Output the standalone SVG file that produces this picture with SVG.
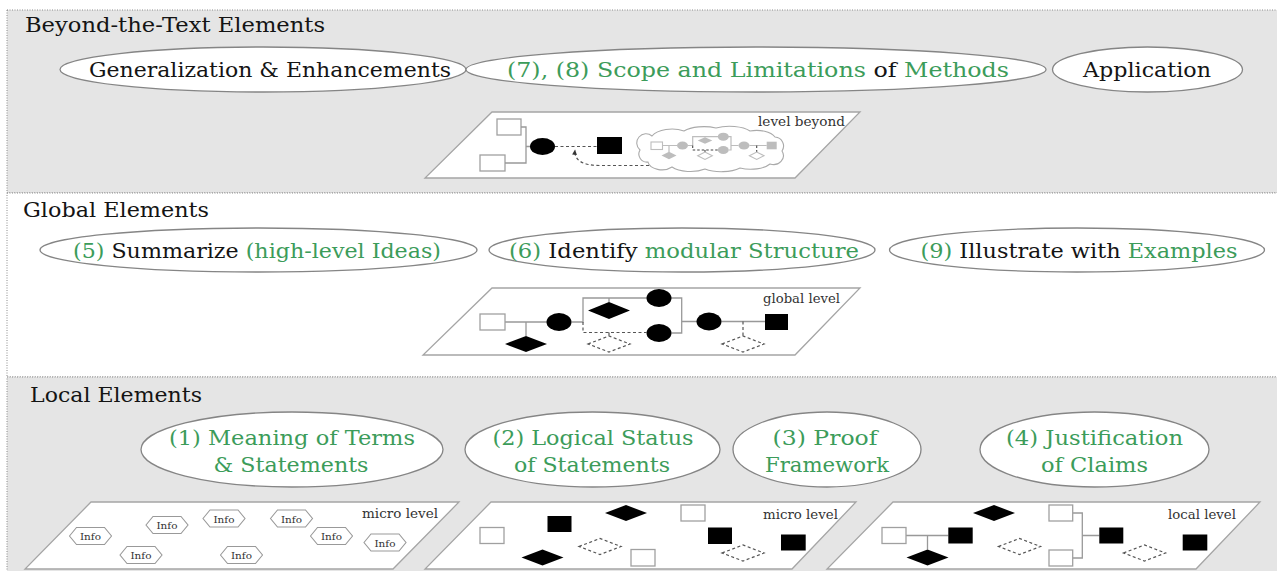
<svg xmlns="http://www.w3.org/2000/svg" width="1277" height="571" viewBox="0 0 1277 571">
<style>
.secg{fill:#e5e5e5;stroke:#8a8a8a;stroke-width:1;stroke-dasharray:1 1.5}
.secw{fill:#ffffff;stroke:#8a8a8a;stroke-width:1;stroke-dasharray:1 1.5}
text{font-family:'DejaVu Serif','Liberation Serif',serif}
.t{font-size:21px;fill:#141414}
.m{text-anchor:middle}
.g{fill:#3c9c5a}
.el{fill:#fff;stroke:#858585;stroke-width:1.3}
.plane{fill:#fff;stroke:#a5a5a5;stroke-width:1.3}
.wsq{fill:#fff;stroke:#a0a0a0;stroke-width:1.3}
.blk{fill:#000}
.ln{stroke:#999;stroke-width:1.3;fill:none}
.dl{stroke:#555;stroke-width:1.2;stroke-dasharray:3 2.5;fill:none}
.dd{fill:none;stroke:#555;stroke-width:1.2;stroke-dasharray:3 2.5}
.lvl{font-size:12.5px;fill:#333}
.hex{fill:#fff;stroke:#999;stroke-width:1.1}
.info{font-size:10px;fill:#333;text-anchor:middle}
.cl{fill:#fff;stroke:#aaa;stroke-width:1.1}
.gf{fill:#bdbdbd}
.gl{stroke:#bdbdbd;stroke-width:1.2;fill:none}
.gw{fill:#fff;stroke:#bdbdbd;stroke-width:1.1}
.gd{stroke:#444;stroke-width:1.1;stroke-dasharray:2.5 2;fill:none}
</style>
<defs>
<marker id="ah" viewBox="0 0 10 10" refX="8" refY="5" markerWidth="5" markerHeight="5" orient="auto">
<path d="M0,1 L9,5 L0,9 Z" fill="#333"/>
</marker>
<polygon id="hx" points="-21,0 -14,-8.5 14,-8.5 21,0 14,8.5 -14,8.5" class="hex"/>
</defs>

<g id="sections">
<rect class="secg" x="7" y="10" width="1280" height="183"/>
<rect class="secw" x="7" y="193" width="1280" height="184"/>
<rect class="secg" x="7" y="377" width="1280" height="200"/>
<text class="t" x="25" y="32" textLength="300" lengthAdjust="spacingAndGlyphs">Beyond-the-Text Elements</text>
<text class="t" x="23" y="217" textLength="186" lengthAdjust="spacingAndGlyphs">Global Elements</text>
<text class="t" x="30" y="402" textLength="172" lengthAdjust="spacingAndGlyphs">Local Elements</text>
</g>

<g id="node-generalization">
<ellipse class="el" cx="263" cy="69.5" rx="203" ry="22.5"/>
<text class="t m" x="270" y="77" textLength="362" lengthAdjust="spacingAndGlyphs">Generalization &amp; Enhancements</text>
</g>
<g id="node-scope">
<ellipse class="el" cx="756" cy="69.5" rx="290" ry="22.5"/>
<text class="t m" x="758" y="77" textLength="502" lengthAdjust="spacingAndGlyphs"><tspan class="g">(7), (8) Scope and Limitations</tspan> of <tspan class="g">Methods</tspan></text>
</g>
<g id="node-application">
<ellipse class="el" cx="1147.5" cy="69.5" rx="95" ry="22.5"/>
<text class="t m" x="1147" y="77" textLength="128" lengthAdjust="spacingAndGlyphs">Application</text>
</g>

<g id="plane-beyond">
<polygon class="plane" points="492,112 860,112 795,178 425,178"/>
<text class="lvl" x="758" y="126" textLength="87" lengthAdjust="spacingAndGlyphs">level beyond</text>
<rect class="wsq" x="497" y="119" width="24" height="16"/>
<rect class="wsq" x="480" y="155" width="25" height="16"/>
<path class="ln" d="M521,127 H526 V163 H505 M526,146.5 H531"/>
<ellipse class="blk" cx="542.5" cy="146.5" rx="12.5" ry="8.5"/>
<path class="dl" d="M555,146.5 H597"/>
<rect class="blk" x="597" y="137" width="25" height="17"/>
<path class="dl" d="M660,165.5 H600 C582,165.5 574,160 575,150" marker-end="url(#ah)"/>
<path class="cl" d="M640,150 A9,9 0 0 1 652,136 A22,12 0 0 1 684,131 A24,10 0 0 1 716,128 A24,10 0 0 1 750,131 A20,11 0 0 1 775,137 A9,9 0 0 1 782,151 A10,9 0 0 1 770,164 A22,10 0 0 1 740,168 A24,10 0 0 1 705,169 A22,10 0 0 1 672,167 A14,9 0 0 1 648,162 A8,8 0 0 1 640,150 Z"/>
<path class="gl" d="M662.5,145.5 H677 M669,145.5 V152 M688,145.5 H692.7 M692.7,145.5 V136.7 H731 V150 H728.8 M731,145.5 H738.5 M749.5,145.5 H766.7 M705,136.7 V137.5"/>
<path class="gd" d="M692.7,145.5 V150 H718 M705,150 V152 M756.7,145.5 V152"/>
<rect class="gw" x="651" y="142" width="11.5" height="7.5"/>
<ellipse class="gf" cx="682.5" cy="145.5" rx="5.5" ry="4"/>
<polygon class="gf" points="661.5,155.5 669,151.8 676.5,155.5 669,159.2"/>
<polygon class="gf" points="697.7,140.5 705,137.3 712.3,140.5 705,143.7"/>
<ellipse class="gf" cx="723.3" cy="136.7" rx="5.5" ry="4"/>
<ellipse class="gf" cx="723.3" cy="150" rx="5.5" ry="4"/>
<polygon class="gw" points="697.7,155.7 705,152 712.3,155.7 705,159.4"/>
<ellipse class="gf" cx="744" cy="145.5" rx="5.5" ry="4"/>
<rect class="gf" x="766.7" y="141.7" width="10" height="7.6"/>
<polygon class="gw" points="749.4,155.7 756.7,152 764,155.7 756.7,159.4"/>
</g>

<g id="node-summarize">
<ellipse class="el" cx="258.5" cy="250" rx="218.5" ry="22"/>
<text class="t m" x="257" y="258" textLength="368" lengthAdjust="spacingAndGlyphs"><tspan class="g">(5)</tspan> Summarize <tspan class="g">(high-level Ideas)</tspan></text>
</g>
<g id="node-identify">
<ellipse class="el" cx="682" cy="250" rx="193" ry="22"/>
<text class="t m" x="684" y="258" textLength="350" lengthAdjust="spacingAndGlyphs"><tspan class="g">(6)</tspan> Identify <tspan class="g">modular Structure</tspan></text>
</g>
<g id="node-illustrate">
<ellipse class="el" cx="1077" cy="250" rx="187.5" ry="22"/>
<text class="t m" x="1079" y="258" textLength="317" lengthAdjust="spacingAndGlyphs"><tspan class="g">(9)</tspan> Illustrate with <tspan class="g">Examples</tspan></text>
</g>

<g id="plane-global">
<polygon class="plane" points="492,288 860,288 795,355 423,355"/>
<text class="lvl" x="763" y="303" textLength="77" lengthAdjust="spacingAndGlyphs">global level</text>
<path class="ln" d="M505,322 H547 M526,322 V336 M571.5,322 H583 V298 H681.7 V333 H671.5 M609,298 V302 M681.7,321.5 H697 M721.5,321.5 H765"/>
<path class="dl" d="M583,322 V332.5 H646.5 M609,332.5 V336 M743,321.5 V336"/>
<rect class="wsq" x="480" y="314" width="25" height="16"/>
<polygon class="blk" points="505,344 526,336 547,344 526,352"/>
<ellipse class="blk" cx="559" cy="322" rx="12.5" ry="9"/>
<polygon class="blk" points="588,310.5 609,302 630,310.5 609,319"/>
<ellipse class="blk" cx="659" cy="298" rx="12.5" ry="9"/>
<ellipse class="blk" cx="659" cy="333" rx="12.5" ry="9"/>
<polygon class="dd" points="588,344 609,336 630,344 609,352"/>
<ellipse class="blk" cx="709" cy="321.5" rx="12.5" ry="9"/>
<rect class="blk" x="765" y="314" width="23" height="16"/>
<polygon class="dd" points="722,344 743,336 764,344 743,352"/>
</g>

<g id="node-meaning">
<ellipse class="el" cx="292" cy="449.5" rx="151" ry="37.5"/>
<text class="t m g" x="292" y="445" textLength="246" lengthAdjust="spacingAndGlyphs">(1) Meaning of Terms</text>
<text class="t m g" x="291" y="472" textLength="155" lengthAdjust="spacingAndGlyphs">&amp; Statements</text>
</g>
<g id="node-logical">
<ellipse class="el" cx="592.5" cy="449.5" rx="127.5" ry="37.5"/>
<text class="t m g" x="593" y="445" textLength="201" lengthAdjust="spacingAndGlyphs">(2) Logical Status</text>
<text class="t m g" x="592" y="472" textLength="156" lengthAdjust="spacingAndGlyphs">of Statements</text>
</g>
<g id="node-proof">
<ellipse class="el" cx="827" cy="449.5" rx="94" ry="37.5"/>
<text class="t m g" x="825" y="445" textLength="105" lengthAdjust="spacingAndGlyphs">(3) Proof</text>
<text class="t m g" x="827" y="472" textLength="124" lengthAdjust="spacingAndGlyphs">Framework</text>
</g>
<g id="node-justification">
<ellipse class="el" cx="1094.5" cy="449.5" rx="114.5" ry="37.5"/>
<text class="t m g" x="1094.5" y="445" textLength="177" lengthAdjust="spacingAndGlyphs">(4) Justification</text>
<text class="t m g" x="1094.5" y="472" textLength="107" lengthAdjust="spacingAndGlyphs">of Claims</text>
</g>

<g id="plane-micro1">
<polygon class="plane" points="91,502 459,502 393,569 25,569"/>
<text class="lvl" x="362" y="518" textLength="76" lengthAdjust="spacingAndGlyphs">micro level</text>
<use href="#hx" x="90.5" y="536"/><text class="info" x="90.5" y="540" textLength="21" lengthAdjust="spacingAndGlyphs">Info</text>
<use href="#hx" x="167" y="525"/><text class="info" x="167" y="529" textLength="21" lengthAdjust="spacingAndGlyphs">Info</text>
<use href="#hx" x="224" y="518.5"/><text class="info" x="224" y="522.5" textLength="21" lengthAdjust="spacingAndGlyphs">Info</text>
<use href="#hx" x="291.5" y="518.5"/><text class="info" x="291.5" y="522.5" textLength="21" lengthAdjust="spacingAndGlyphs">Info</text>
<use href="#hx" x="331.5" y="536"/><text class="info" x="331.5" y="540" textLength="21" lengthAdjust="spacingAndGlyphs">Info</text>
<use href="#hx" x="385" y="542.5"/><text class="info" x="385" y="546.5" textLength="21" lengthAdjust="spacingAndGlyphs">Info</text>
<use href="#hx" x="141" y="555"/><text class="info" x="141" y="559" textLength="21" lengthAdjust="spacingAndGlyphs">Info</text>
<use href="#hx" x="241.5" y="555"/><text class="info" x="241.5" y="559" textLength="21" lengthAdjust="spacingAndGlyphs">Info</text>
</g>

<g id="plane-micro2">
<polygon class="plane" points="491,502 856,502 792,569 425,569"/>
<text class="lvl" x="763" y="519" textLength="75" lengthAdjust="spacingAndGlyphs">micro level</text>
<rect class="wsq" x="480" y="527.5" width="24" height="16"/>
<rect class="blk" x="547.5" y="516" width="24" height="16"/>
<polygon class="blk" points="605,513 626,505 647,513 626,521"/>
<polygon class="blk" points="521.5,557.5 542.5,549.5 563.5,557.5 542.5,565.5"/>
<polygon class="dd" points="579,546.5 600,538.5 621,546.5 600,554.5"/>
<rect class="wsq" x="631" y="549.5" width="24" height="16.5"/>
<rect class="wsq" x="681" y="505" width="24" height="16"/>
<rect class="blk" x="708" y="527.5" width="24" height="16.5"/>
<polygon class="dd" points="722,553 743,545 764,553 743,561"/>
<rect class="blk" x="781" y="534.5" width="24.7" height="16"/>
</g>

<g id="plane-local">
<polygon class="plane" points="893,502 1260,502 1196,569 827,569"/>
<text class="lvl" x="1168" y="519" textLength="68" lengthAdjust="spacingAndGlyphs">local level</text>
<path class="ln" d="M906,535.5 H948.3 M927.5,535.5 V549.5 M1072.7,513 H1082.3 V558 H1072.7 M1082.3,535.5 H1099.3"/>
<rect class="wsq" x="882" y="527.5" width="24" height="16"/>
<rect class="blk" x="948.3" y="527.5" width="24.4" height="16"/>
<polygon class="blk" points="906.5,557.5 927.5,549.5 948.5,557.5 927.5,565.5"/>
<polygon class="blk" points="973,513 994,505 1015,513 994,521"/>
<polygon class="dd" points="998.5,546.5 1019.5,538.5 1040.5,546.5 1019.5,554.5"/>
<rect class="wsq" x="1049" y="505" width="23.7" height="16"/>
<rect class="wsq" x="1049" y="550" width="23.7" height="16"/>
<rect class="blk" x="1099.3" y="527.5" width="24" height="16"/>
<polygon class="dd" points="1123.5,553 1144.5,545 1165.5,553 1144.5,561"/>
<rect class="blk" x="1182.7" y="534.5" width="24.6" height="16"/>
</g>
</svg>
